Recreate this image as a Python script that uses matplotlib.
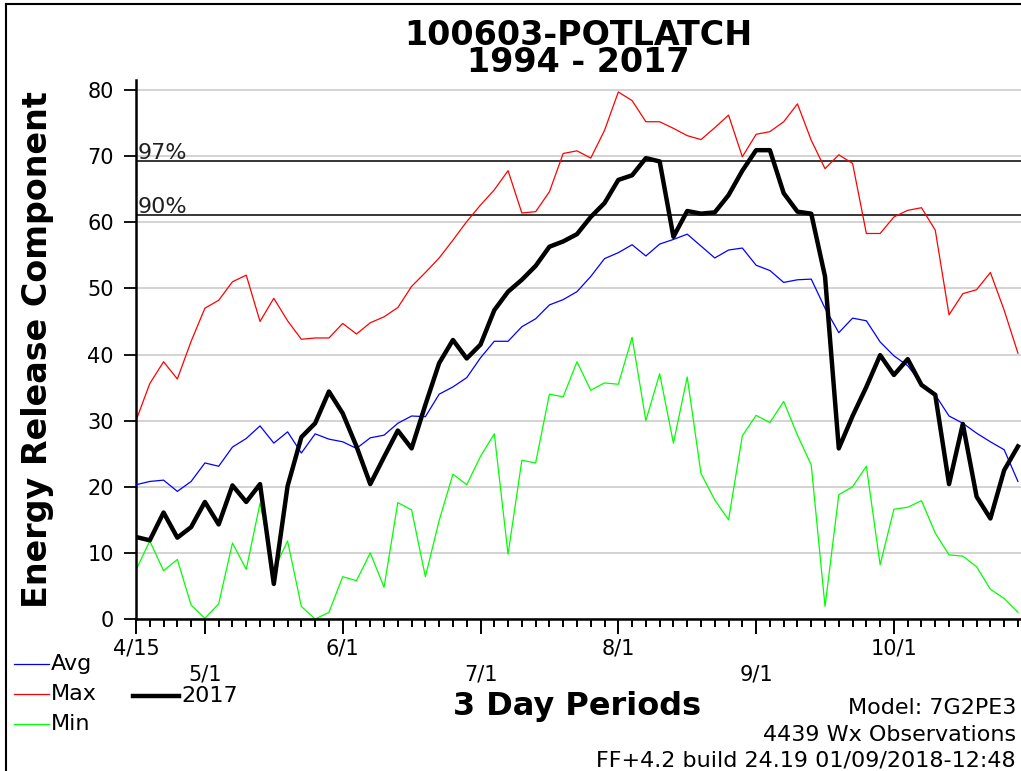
import numpy as np
import matplotlib.pyplot as plt
from matplotlib.lines import Line2D

plt.rcParams.update({
    'font.family': 'DejaVu Sans',
    'figure.dpi': 100,
})

# ================= Data (3-day periods from 4/15) =================
periods = np.arange(65)

avg = [20.3, 20.8, 21.0, 19.3, 20.8, 23.6, 23.1, 26.0, 27.3, 29.2,
       26.6, 28.3, 25.1, 28.0, 27.2, 26.8, 25.8, 27.4, 27.8, 29.6,
       30.7, 30.6, 34.0, 35.1, 36.5, 39.5, 42.0, 42.0, 44.2, 45.4,
       47.5, 48.3, 49.5, 51.8, 54.5, 55.4, 56.6, 54.9, 56.7, 57.4,
       58.2, 56.4, 54.6, 55.8, 56.1, 53.5, 52.7, 50.9, 51.3, 51.4,
       47.0, 43.3, 45.5, 45.1, 41.9, 39.8, 38.3, 35.6, 33.9, 30.7,
       29.6, 28.1, 26.8, 25.6, 20.8]

max_erc = [30.0, 35.6, 38.9, 36.3, 42.0, 47.0, 48.2, 51.0, 52.0, 45.0,
           48.5, 45.1, 42.3, 42.5, 42.5, 44.7, 43.1, 44.8, 45.7, 47.1,
           50.3, 52.4, 54.6, 57.3, 60.1, 62.6, 64.9, 67.8, 61.4, 61.6,
           64.6, 70.4, 70.8, 69.7, 73.9, 79.7, 78.4, 75.2, 75.2, 74.2,
           73.1, 72.5, 74.3, 76.2, 69.9, 73.3, 73.7, 75.2, 77.9, 72.4,
           68.1, 70.2, 68.9, 58.3, 58.3, 60.8, 61.8, 62.2, 58.8, 46.0,
           49.2, 49.8, 52.4, 46.7, 40.2]

min_erc = [7.4, 11.8, 7.3, 9.0, 2.1, 0.1, 2.3, 11.5, 7.5, 17.5,
           7.4, 11.8, 1.9, 0.0, 1.0, 6.4, 5.8, 10.0, 4.8, 17.6,
           16.5, 6.4, 14.9, 21.9, 20.3, 24.6, 28.0, 9.8, 24.0, 23.6,
           34.0, 33.6, 38.9, 34.6, 35.7, 35.5, 42.6, 30.0, 37.1, 26.6,
           36.6, 22.0, 18.0, 15.0, 27.7, 30.8, 29.7, 32.9, 27.8, 23.3,
           1.9, 18.8, 20.0, 23.1, 8.2, 16.6, 16.9, 17.9, 13.0, 9.7,
           9.5, 7.9, 4.5, 3.1, 1.0]

erc_2017 = [12.4, 11.9, 16.1, 12.3, 13.9, 17.7, 14.3, 20.2, 17.7, 20.4,
            5.3, 20.1, 27.5, 29.6, 34.4, 31.1, 26.1, 20.4, 24.5, 28.5,
            25.8, 32.4, 38.7, 42.2, 39.4, 41.5, 46.7, 49.5, 51.3, 53.4,
            56.3, 57.1, 58.2, 60.8, 62.9, 66.4, 67.1, 69.7, 69.2, 57.8,
            61.7, 61.3, 61.5, 64.1, 67.8, 70.9, 70.9, 64.4, 61.6, 61.3,
            51.8, 25.8, 30.7, 35.1, 39.9, 36.9, 39.3, 35.4, 33.9, 20.4,
            29.5, 18.5, 15.2, 22.5, 26.1]

pct_97 = 69.2
pct_90 = 61.1

date_pos = [0, 5, 15, 25, 35, 45, 55]
date_lbl = ['4/15', '\n5/1', '6/1', '\n7/1', '8/1', '\n9/1', '10/1']
y_ticks = list(range(0, 81, 10))

# ================= Style =================
W, H = 1021, 771
BLUE = '#0000ff'
RED = '#ff0000'
GREEN = '#00ff00'
GRID_COLOR = '#c8c8c8'
SHORT_TICK = 6      # pt, one per 3-day period
LONG_TICK = 11      # pt, at the month marks


def fx(px):
    return px / W


def fy(py):
    return 1 - py / H


fig = plt.figure(figsize=(W / 100, H / 100), dpi=100)
ax = fig.add_axes([fx(136), fy(619), 884.7 / W, 81.5 * 6.6125 / H])

ax.set_xlim(0, 64.2)
ax.set_ylim(0, 81.5)

ax.set_yticks(y_ticks)
ax.yaxis.grid(True, color=GRID_COLOR, lw=1.1, zorder=0)
ax.set_axisbelow(True)

ax.axhline(pct_97, color='black', lw=1.1, zorder=1)
ax.axhline(pct_90, color='black', lw=1.1, zorder=1)
ax.text(0.1, pct_97 + 0.35, '97%', fontsize=16, color='#202020', va='baseline', ha='left')
ax.text(0.1, pct_90 + 0.35, '90%', fontsize=16, color='#202020', va='baseline', ha='left')

ax.plot(periods, min_erc, color=GREEN, lw=0.9, zorder=2)
ax.plot(periods, max_erc, color=RED, lw=0.9, zorder=2)
ax.plot(periods, avg, color=BLUE, lw=0.9, zorder=3)
ax.plot(periods, erc_2017, color='black', lw=3.2, zorder=4)

# month labels as major ticks, every period as a minor tick
ax.set_xticks(date_pos)
ax.set_xticklabels(date_lbl, linespacing=1.35)
ax.set_xticks(periods, minor=True)

for s in ['top', 'right']:
    ax.spines[s].set_visible(False)
ax.spines['left'].set_linewidth(1.8)
ax.spines['bottom'].set_linewidth(1.8)

ax.tick_params(axis='y', length=9, width=1.3, pad=7, labelsize=15)
ax.tick_params(axis='x', which='major', length=LONG_TICK, width=1.4, pad=3, labelsize=15)
ax.tick_params(axis='x', which='minor', length=SHORT_TICK, width=1.4, color='black')

# ================= Titles and labels =================
fig.text(fx(578), fy(49), '100603-POTLATCH\n1994 - 2017', fontsize=24, fontweight='bold',
         ha='center', va='center', linespacing=0.78)
fig.text(fx(38), fy(350), 'Energy Release Component', fontsize=24, fontweight='bold',
         rotation=90, ha='center', va='center')
fig.text(fx(577), fy(707), '3 Day Periods', fontsize=23, fontweight='bold', ha='center', va='center')

fig.text(fx(1016), fy(708), 'Model: 7G2PE3', fontsize=16, ha='right', va='center')
fig.text(fx(1016), fy(735), '4439 Wx Observations', fontsize=16, ha='right', va='center')
fig.text(fx(1016), fy(760), 'FF+4.2 build 24.19 01/09/2018-12:48', fontsize=16, ha='right', va='center')

# ================= Legend (hand placed) =================
legend_items = [('Avg', BLUE, 0.9, 14, 49, 51, 664),
                ('Max', RED, 0.9, 14, 49, 51, 694),
                ('Min', GREEN, 0.9, 14, 49, 51, 724),
                ('2017', 'black', 3.2, 133, 179, 181, 696)]
for lbl, col, lw, x0, x1, xt, yy in legend_items:
    fig.add_artist(Line2D([fx(x0), fx(x1)], [fy(yy), fy(yy)], color=col, lw=lw))
    fig.text(fx(xt), fy(yy), lbl, fontsize=16, ha='left', va='center')

# frame border of the screenshot
fig.add_artist(Line2D([fx(6), 1], [fy(4), fy(4)], color='black', lw=1.5))
fig.add_artist(Line2D([fx(6), fx(6)], [fy(4), 0], color='black', lw=1.5))

plt.savefig('out.png', dpi=100)
